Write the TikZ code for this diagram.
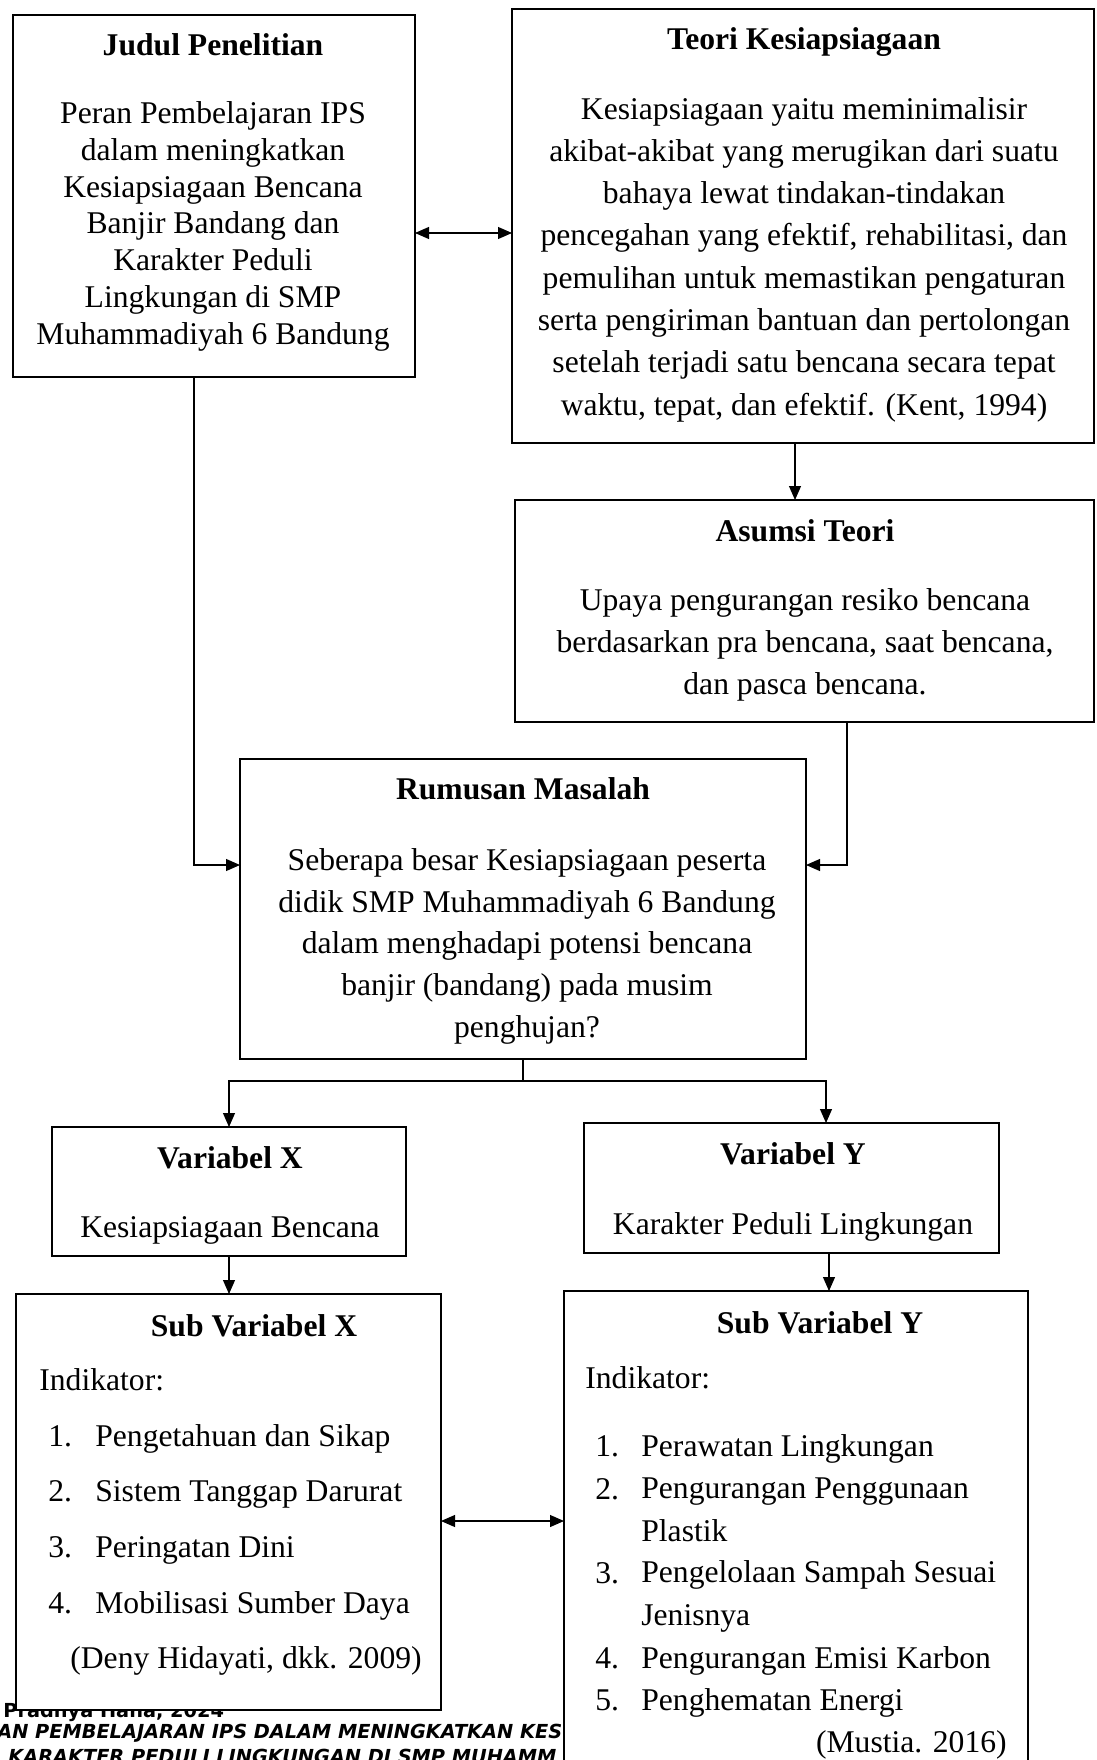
\documentclass[tikz,border=0pt]{standalone}
\usepackage{fontspec}
\setmainfont{Liberation Serif}
\newfontfamily\footfont{DejaVu Sans}
\usetikzlibrary{arrows.meta}
\usetikzlibrary{positioning}
\usetikzlibrary{fit}
\tikzset{
kotak/.style = {draw, fill=white, line width=1.2pt,
                inner sep=0pt, outer sep=0pt},
judul/.style = {font=\fontsize{18}{21}\selectfont\bfseries,
                inner sep=0pt, anchor=base},
isi/.style = {font=\fontsize{18}{#1}\selectfont, align=center,
              inner sep=0pt, anchor=base},
isi/.default = 24pt, % jarak baris
kaki/.style = {font=\footfont\fontsize{11}{12}\selectfont\bfseries,
               inner sep=0pt, anchor=base west},
kakimiring/.style = {kaki, font=\footfont\fontsize{11}{12}\selectfont\bfseries\itshape},
panah/.style = {line width=0.6pt, -{Triangle[length=0.28cm,width=0.24cm]}},
dpanah/.style = {line width=0.6pt,
  {Triangle[length=0.28cm,width=0.24cm]}-{Triangle[length=0.28cm,width=0.24cm]}}
}
\newcommand{\kotak}[3]{\node[kotak, fit={(#2) (#3)}] (#1) {};}

\begin{document}
\begin{tikzpicture}[x=0.02cm, y=-0.02cm]
    \useasboundingbox (0,0) rectangle (1097,1760);
    \clip (0,0) rectangle (1097,1760);

    % catatan kaki halaman
    \node[kaki] (kaki1) at (3,1717) {Pradnya Hana, 2024};
    \node[kakimiring] (kaki2) at (-3,1738) {AN PEMBELAJARAN IPS DALAM MENINGKATKAN KES};
    \node[kakimiring] (kaki3) at (8,1763) {KARAKTER PEDULI LINGKUNGAN DI SMP MUHAMM};

    \kotak{judul}{13,15}{415,377}
    \kotak{teori}{512,9}{1094,443}
    \kotak{asumsi}{515,500}{1094,722}
    \kotak{rumusan}{240,759}{806,1059}
    \kotak{varx}{52,1127}{406,1256}
    \kotak{vary}{584,1123}{999,1253}
    \kotak{subx}{16,1294}{441,1710}
    \kotak{suby}{564,1291}{1028,1800}

    % anchor base = baris terakhir
    \node[judul] (judulT) at (213,56) {Judul Penelitian};
    \node[isi=20.9pt] (judulI) at (213,344) {Peran Pembelajaran IPS\\dalam meningkatkan\\Kesiapsiagaan Bencana\\Banjir Bandang dan\\Karakter Peduli\\Lingkungan di SMP\\Muhammadiyah 6 Bandung};

    \node[judul] (teoriT) at (804,50) {Teori Kesiapsiagaan};
    \node[isi=24.05pt] (teoriI) at (804,415) {Kesiapsiagaan yaitu meminimalisir\\akibat-akibat yang merugikan dari suatu\\bahaya lewat tindakan-tindakan\\pencegahan yang efektif, rehabilitasi, dan\\pemulihan untuk memastikan pengaturan\\serta pengiriman bantuan dan pertolongan\\setelah terjadi satu bencana secara tepat\\waktu, tepat, dan efektif. (Kent, 1994)};

    \node[judul] (asumsiT) at (805,541) {Asumsi Teori};
    \node[isi=23.7pt] (asumsiI) at (805,694) {Upaya pengurangan resiko bencana\\berdasarkan pra bencana, saat bencana,\\dan pasca bencana.};

    \node[judul] (rumusanT) at (523,799) {Rumusan Masalah};
    \node[isi=23.7pt] (rumusanI) at (527,1037) {Seberapa besar Kesiapsiagaan peserta\\didik SMP Muhammadiyah 6 Bandung\\dalam menghadapi potensi bencana\\banjir (bandang) pada musim\\penghujan?};

    \node[judul] (varxT) at (230,1168) {Variabel X};
    \node[isi] (varxI) at (230,1237) {Kesiapsiagaan Bencana};
    \node[judul] (varyT) at (793,1164) {Variabel Y};
    \node[isi] (varyI) at (793,1234) {Karakter Peduli Lingkungan};

    % sub variabel X
    \node[judul] (subxT) at (254,1336) {Sub Variabel X};
    \node[isi, anchor=base west] (subxI) at (39,1390) {Indikator:};
    \foreach \butir [count=\i] in {Pengetahuan dan Sikap, Sistem Tanggap Darurat, Peringatan Dini, Mobilisasi Sumber Daya}{
        \node[isi, anchor=base west] (xno\i) at (48,{1446+55.7*(\i-1)}) {\i.};
        \node[isi, anchor=base west] (xbutir\i) at (95,{1446+55.7*(\i-1)}) {\butir};
    }
    \node[isi] (subxS) at (246,1668) {(Deny Hidayati, dkk. 2009)};

    % sub variabel Y
    \node[judul] (subyT) at (820,1333) {Sub Variabel Y};
    \node[isi, anchor=base west] (subyI) at (585,1388) {Indikator:};
    \foreach \i/\yy in {1/1456, 2/1499, 3/1583, 4/1668, 5/1710}
        \node[isi, anchor=base west] (yno\i) at (595,\yy) {\i.};
    \node[isi, anchor=base west] (ybutir1) at (641,1456) {Perawatan Lingkungan};
    \node[isi=24pt, align=left, anchor=base west] (ybutir2) at (641,1541) {Pengurangan Penggunaan\\Plastik};
    \node[isi=24pt, align=left, anchor=base west] (ybutir3) at (641,1625) {Pengelolaan Sampah Sesuai\\Jenisnya};
    \node[isi, anchor=base west] (ybutir4) at (641,1668) {Pengurangan Emisi Karbon};
    \node[isi, anchor=base west] (ybutir5) at (641,1710) {Penghematan Energi};
    \node[isi, anchor=base east] (subyS) at (1007,1752) {(Mustia. 2016)};

    % panah
    \draw[dpanah] (judul.east |- 0,233) -- (teori.west |- 0,233);
    \draw[panah] (teori.south -| 795,0) -- (asumsi.north -| 795,0);
    \draw[panah] (judul.south -| 194,0) |- (rumusan.west |- 0,865);
    \draw[panah] (asumsi.south -| 847,0) |- (rumusan.east |- 0,865);
    \coordinate (cabang) at (rumusan.south |- 0,1081);
    \draw[line width=0.6pt] (rumusan.south) -- (cabang);
    \draw[panah] (cabang) -| (varx.north);
    \draw[panah] (cabang) -| (vary.north -| 826,0);
    \draw[panah] (varx.south) -- (subx.north -| varx.south);
    \draw[panah] (vary.south -| 829,0) -- (suby.north -| 829,0);
    \draw[dpanah] (subx.east |- 0,1521) -- (suby.west |- 0,1521);
\end{tikzpicture}
\end{document}
